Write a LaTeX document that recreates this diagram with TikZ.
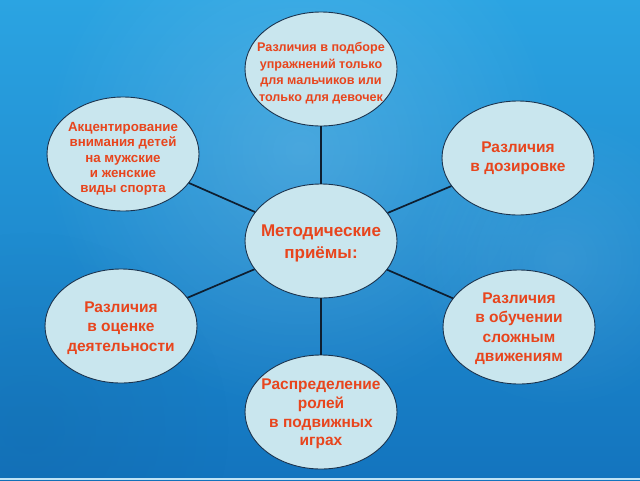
\documentclass[tikz,border=0pt]{standalone}
\usepackage{fontspec}
\setmainfont{Liberation Sans}
\usetikzlibrary{shapes.geometric,fadings}
\tikzfading[name=softblob, inner color=transparent!0, outer color=transparent!100]
\definecolor{bgtop}{HTML}{2BA4E2}
\definecolor{bgbot}{HTML}{1374BE}
\definecolor{bubble}{HTML}{C9E6EE}
\definecolor{rim}{HTML}{1B344F}
\definecolor{txt}{HTML}{E8451D}
\definecolor{link}{HTML}{0E1E30}
\tikzset{
  bubble/.style={ellipse, draw=rim, line width=0.9pt, fill=bubble,
    minimum width=152pt, minimum height=114pt, inner sep=0pt},
  words/.style={align=center, text=txt, inner sep=0pt},
  linkline/.style={draw=link, line width=1.7pt}
}
\begin{document}
\begin{tikzpicture}[x=1pt,y=-1pt]
\useasboundingbox (0,0) rectangle (640,480);
\shade[top color=bgtop, bottom color=bgbot] (0,0) rectangle (640,480);
\fill[white, opacity=0.17, path fading=softblob] (300,150) circle (260);
\fill[white, opacity=0.10, path fading=softblob] (560,260) circle (150);
\fill[bgbot!70!black, opacity=0.15, path fading=softblob] (30,430) circle (200);
\fill[white!70!bgtop] (0,477.5) rectangle (640,480);

\node[bubble] (c) at (321,241) {};
\node[bubble] (t) at (321,69) {};
\node[bubble] (tl) at (123,154) {};
\node[bubble] (tr) at (518,158) {};
\node[bubble] (bl) at (121,326) {};
\node[bubble] (br) at (519,327) {};
\node[bubble] (b) at (321,412) {};

\foreach \n in {t,tl,tr,bl,br,b}
  \draw[linkline] (c) -- (\n);

\node[words, font=\bfseries\fontsize{17}{22}\selectfont] (ct) at ([yshift=-2]c.center) {Методические\\приёмы:};
\node[words, font=\bfseries\fontsize{12.6}{16.7}\selectfont] (tt) at ([yshift=-4]t.center) {Различия в подборе\\упражнений только\\для мальчиков или\\только для девочек};
\node[words, font=\bfseries\fontsize{13.3}{15.3}\selectfont] (tlt) at ([yshift=-5]tl.center) {Акцентирование\\внимания детей\\на мужские\\и женские\\виды спорта};
\node[words, font=\bfseries\fontsize{15.5}{19}\selectfont] (trt) at (tr) {Различия\\в дозировке};
\node[words, font=\bfseries\fontsize{15.5}{19.5}\selectfont] (blt) at ([yshift=-2]bl.center) {Различия\\в оценке\\деятельности};
\node[words, font=\bfseries\fontsize{15.5}{19.5}\selectfont] (brt) at ([yshift=-1.5]br.center) {Различия\\в обучении\\сложным\\движениям};
\node[words, font=\bfseries\fontsize{15.5}{18.7}\selectfont] (bt) at ([yshift=-2]b.center) {Распределение\\ролей\\в подвижных\\играх};
\end{tikzpicture}
\end{document}
